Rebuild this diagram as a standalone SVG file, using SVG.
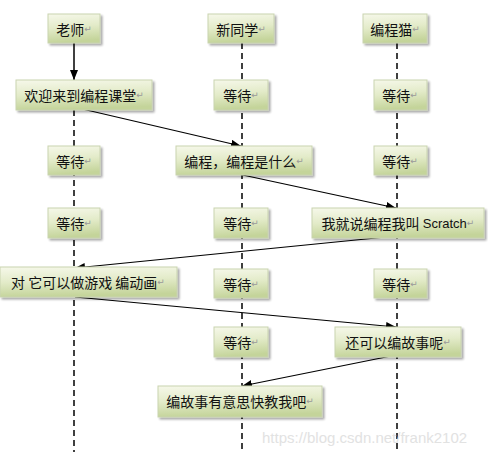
<svg xmlns="http://www.w3.org/2000/svg" width="488" height="456" viewBox="0 0 488 456">
<defs>
<linearGradient id="g" x1="0" y1="0" x2="0.15" y2="1">
<stop offset="0" stop-color="#f6f8ea"/>
<stop offset="0.5" stop-color="#e3ebc9"/>
<stop offset="1" stop-color="#c4d49a"/>
</linearGradient>
<filter id="sh" x="-10%" y="-10%" width="130%" height="140%">
<feGaussianBlur in="SourceAlpha" stdDeviation="1"/>
<feOffset dx="2" dy="2" result="o"/>
<feComponentTransfer><feFuncA type="linear" slope="0.35"/></feComponentTransfer>
<feMerge><feMergeNode/><feMergeNode in="SourceGraphic"/></feMerge>
</filter>
<marker id="ah" markerWidth="10" markerHeight="8" refX="10" refY="4" orient="auto" markerUnits="userSpaceOnUse">
<path d="M0,0 L10,4 L0,8 Z" fill="#000"/>
</marker>
</defs>
<style>
.box{fill:url(#g);stroke:#c9d3b0;stroke-width:1;filter:url(#sh)}
.t{font-family:"Noto Sans CJK SC","Liberation Sans",sans-serif;font-size:14px;fill:#111;text-anchor:middle;dominant-baseline:central}
.r{font-family:"DejaVu Sans",sans-serif;font-size:9px;fill:#999}
.life{stroke:#000;stroke-width:1.5;stroke-dasharray:6,4;fill:none}
.msg{stroke:#000;stroke-width:1.2;fill:none;marker-end:url(#ah)}
.wm{font-family:"Liberation Sans","Noto Sans",sans-serif;font-size:15px;fill:#e2e2e2}
</style>
<rect width="488" height="456" fill="#fff"/>
<g id="lifelines">
<line class="life" x1="74" y1="110" x2="74" y2="452"/>
<line class="life" x1="242" y1="43" x2="242" y2="452"/>
<line class="life" x1="397" y1="43" x2="397" y2="452"/>
</g>
<g id="connectors">
<line class="msg" x1="74" y1="43" x2="74" y2="80" style="stroke-width:1.5"/>
<line class="msg" x1="78" y1="108" x2="241" y2="146"/>
<line class="msg" x1="238" y1="174" x2="396" y2="208"/>
<line class="msg" x1="396" y1="236" x2="75" y2="268"/>
<line class="msg" x1="75" y1="297" x2="396" y2="327"/>
<line class="msg" x1="396" y1="355" x2="242" y2="386"/>
</g>
<g id="n-teacher"><rect class="box" x="48" y="14" width="52" height="29"/><text class="t" x="74" y="29">老师<tspan class="r">↵</tspan></text></g>
<g id="n-student"><rect class="box" x="208" y="14" width="66" height="29"/><text class="t" x="241" y="29">新同学<tspan class="r">↵</tspan></text></g>
<g id="n-cat"><rect class="box" x="363" y="14" width="64" height="29"/><text class="t" x="395" y="29">编程猫<tspan class="r">↵</tspan></text></g>

<g id="n-welcome"><rect class="box" x="16" y="80" width="136" height="30"/><text class="t" x="84" y="95">欢迎来到编程课堂<tspan class="r">↵</tspan></text></g>
<g id="n-wait-s1"><rect class="box" x="214" y="80" width="54" height="30"/><text class="t" x="241" y="95">等待<tspan class="r">↵</tspan></text></g>
<g id="n-wait-c1"><rect class="box" x="374" y="80" width="53" height="30"/><text class="t" x="400" y="95">等待<tspan class="r">↵</tspan></text></g>

<g id="n-wait-t1"><rect class="box" x="48" y="146" width="52" height="29"/><text class="t" x="74" y="161">等待<tspan class="r">↵</tspan></text></g>
<g id="n-what"><rect class="box" x="176" y="146" width="136" height="29"/><text class="t" x="244" y="161">编程，编程是什么<tspan class="r">↵</tspan></text></g>
<g id="n-wait-c2"><rect class="box" x="374" y="146" width="53" height="29"/><text class="t" x="400" y="161">等待<tspan class="r">↵</tspan></text></g>

<g id="n-wait-t2"><rect class="box" x="48" y="208" width="52" height="30"/><text class="t" x="74" y="223">等待<tspan class="r">↵</tspan></text></g>
<g id="n-wait-s2"><rect class="box" x="214" y="208" width="54" height="30"/><text class="t" x="241" y="223">等待<tspan class="r">↵</tspan></text></g>
<g id="n-scratch"><rect class="box" x="312" y="208" width="172" height="30"/><text class="t" x="398" y="223">我就说编程我叫 <tspan style="font-family:'Liberation Sans',sans-serif;font-size:13px">Scratch</tspan><tspan class="r">↵</tspan></text></g>

<g id="n-games"><rect class="box" x="0" y="267" width="177" height="30"/><text class="t" x="88" y="282">对 它可以做游戏 编动画<tspan class="r">↵</tspan></text></g>
<g id="n-wait-s3"><rect class="box" x="214" y="269" width="54" height="29"/><text class="t" x="241" y="284">等待<tspan class="r">↵</tspan></text></g>
<g id="n-wait-c3"><rect class="box" x="374" y="269" width="53" height="29"/><text class="t" x="400" y="284">等待<tspan class="r">↵</tspan></text></g>

<g id="n-wait-s4"><rect class="box" x="214" y="327" width="54" height="30"/><text class="t" x="241" y="342">等待<tspan class="r">↵</tspan></text></g>
<g id="n-story"><rect class="box" x="335" y="327" width="126" height="30"/><text class="t" x="398" y="342">还可以编故事呢<tspan class="r">↵</tspan></text></g>

<g id="n-teach"><rect class="box" x="158" y="386" width="164" height="31"/><text class="t" x="240" y="401">编故事有意思快教我吧<tspan class="r">↵</tspan></text></g>

<text class="wm" x="262" y="443">https://blog.csdn.net/frank2102</text>
</svg>
